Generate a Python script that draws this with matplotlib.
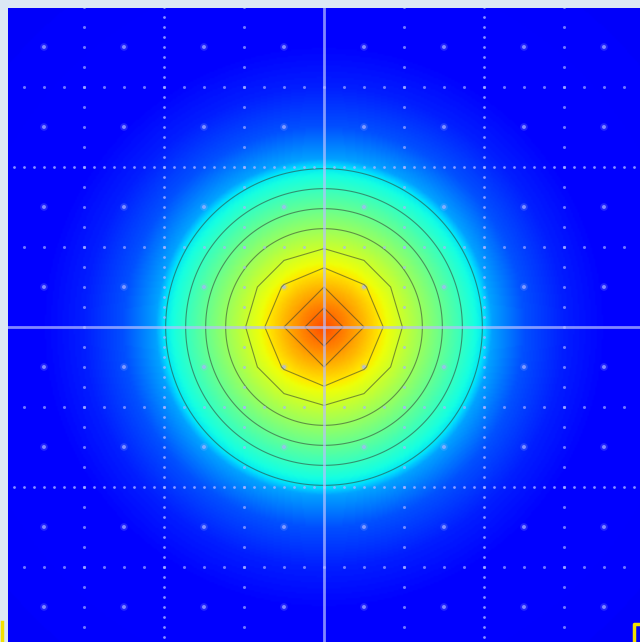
import numpy as np
import matplotlib
matplotlib.use("Agg")
import matplotlib.pyplot as plt
from matplotlib.lines import Line2D

# Radial profile of the surface (distance from centre -> colour value on jet scale)
profile_r = [0.0, 0.25, 0.5, 0.75, 1.0, 1.25, 1.5, 1.75, 2.0, 2.1, 2.5, 3.0, 3.5, 4.0, 5.0, 6.0]
profile_v = [0.83, 0.775, 0.715, 0.65, 0.59, 0.53, 0.47, 0.41, 0.35, 0.285, 0.205, 0.155, 0.128, 0.117, 0.11, 0.105]

# Contour levels: inner ones follow the coarse sampling, outer ones the fine one
inner_levels = [0.595, 0.655, 0.715, 0.775]
outer_levels = [0.355, 0.415, 0.475, 0.535]

coarse_step = 0.5
fine_step = 0.02
grid_half = 4.0

# Grid decorations
major_lines = [-2.0, 2.0]
minor_lines = [-3.0, -1.0, 1.0, 3.0]
dot_centres = [-3.5, -2.5, -1.5, -0.5, 0.5, 1.5, 2.5, 3.5]

W, H = 640, 642
fig = plt.figure(figsize=(W / 100, H / 100), dpi=100, facecolor="#dbe8f4")
ax = fig.add_axes([8 / W, 0, 1 - 8 / W, (H - 8) / H])


def surface(step):
    g = np.arange(-grid_half, grid_half + 1e-9, step)
    X, Y = np.meshgrid(g, g)
    return g, X, Y, np.interp(np.hypot(X, Y), profile_r, profile_v)


gf, Xf, Yf, Zf = surface(fine_step)
gc, Xc, Yc, Zc = surface(coarse_step)

ext = (gf[0] - fine_step / 2, gf[-1] + fine_step / 2, gf[0] - fine_step / 2, gf[-1] + fine_step / 2)
ax.imshow(Zf, cmap="jet", vmin=0, vmax=1, origin="lower", extent=ext,
          interpolation="bilinear", aspect="auto")
ax.contour(Xf, Yf, Zf, levels=outer_levels, colors="#303a30", linewidths=0.8, alpha=0.55)
ax.contour(Xc, Yc, Zc, levels=inner_levels, colors="#303a30", linewidths=0.8, alpha=0.55)

dot_col = "#aab4ff"
span = np.arange(-4.0, 4.0 + 1e-9, 0.125)
for v in major_lines:
    ax.plot(np.full_like(span, v), span, ls="none", marker="o", ms=2.0, mec="none",
            mfc=dot_col, alpha=0.8)
    ax.plot(span, np.full_like(span, v), ls="none", marker="o", ms=2.0, mec="none",
            mfc=dot_col, alpha=0.8)
span2 = np.arange(-4.0, 4.0 + 1e-9, 0.25)
for v in minor_lines:
    ax.plot(np.full_like(span2, v), span2, ls="none", marker="o", ms=2.2, mec="none",
            mfc=dot_col, alpha=0.65)
    ax.plot(span2, np.full_like(span2, v), ls="none", marker="o", ms=2.2, mec="none",
            mfc=dot_col, alpha=0.65)
DX, DY = np.meshgrid(dot_centres, dot_centres)
ax.scatter(DX.ravel(), DY.ravel(), s=30, c=dot_col, alpha=0.2, edgecolors="none")
ax.scatter(DX.ravel(), DY.ravel(), s=8, c=dot_col, alpha=0.7, edgecolors="none")

ax.axvline(0, color="#b8c0ff", lw=2.0, alpha=0.7)
ax.axhline(0, color="#b8c0ff", lw=2.0, alpha=0.7)

ax.set_xlim((8 - 324) / 80, (640 - 324) / 80)
ax.set_ylim((327 - 642) / 80, (327 - 8) / 80)
ax.set_axis_off()

# Yellow corner marks along the bottom edge
fig.add_artist(Line2D([1.5 / W, 1.5 / W], [0, 20 / H], color="#f2e000", lw=2.5))
fig.add_artist(Line2D([634 / W, 634 / W, W / W], [0, 18 / H, 18 / H], color="#f2e000", lw=2.5))

fig.savefig("out.png", dpi=100, facecolor=fig.get_facecolor())
